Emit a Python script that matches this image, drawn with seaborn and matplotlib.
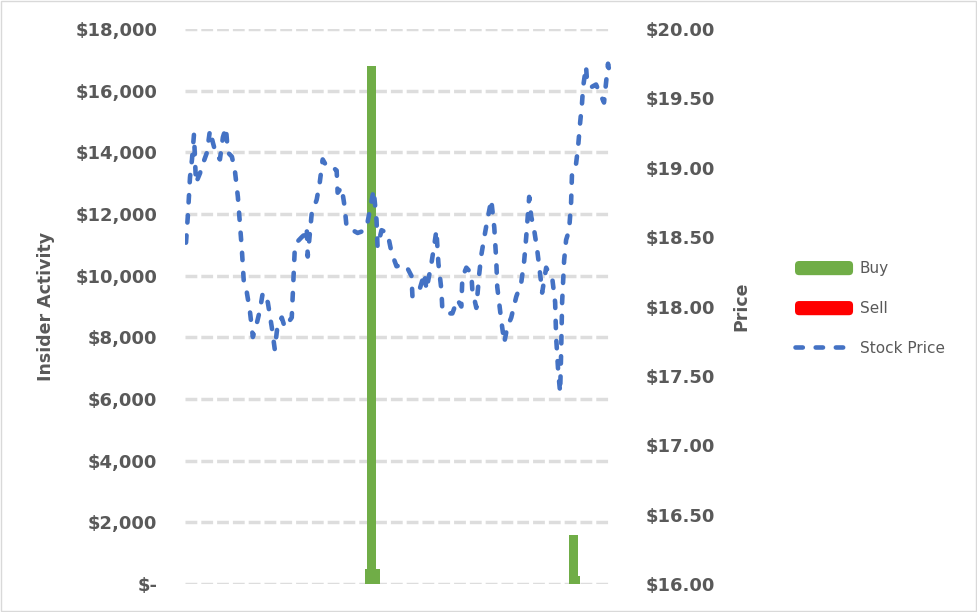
import pandas as pd
import seaborn as sns
import matplotlib.pyplot as plt
from matplotlib.patches import Patch, Rectangle, FancyBboxPatch
from matplotlib.lines import Line2D
from matplotlib.legend_handler import HandlerPatch

# daily close (day offset from first point, price in $)
days = [0, 2, 4, 6, 8, 10, 14, 17, 21, 24, 27, 30, 34, 37, 40, 42, 46, 49, 52, 54,
        56, 58, 61, 64, 67, 71, 74, 77, 82, 86, 89, 92, 96, 99, 106, 109, 112, 116, 119, 121,
        122, 126, 131, 134, 137, 141, 146, 151, 152, 156, 159, 161, 167, 172, 176, 181, 185, 188, 189, 191,
        192, 196, 202, 206, 211, 217, 221, 226, 227, 234, 239, 241, 246, 249, 251, 253, 256, 257, 264, 267,
        272, 276, 277, 281, 286, 287, 291, 294, 296, 299, 302, 306, 307, 309, 311, 312, 316, 319, 322, 326,
        331, 336, 339, 341, 344, 346, 349, 352, 356, 357, 361, 364, 367, 370, 371, 373, 375, 376, 377, 379,
        381, 384, 386, 387, 391, 393, 395, 397, 398, 401, 402, 406, 411, 414, 419, 421, 423, 426]
price = [18.46, 18.67, 18.93, 19.06, 19.24, 18.89, 18.96, 19.03, 19.11, 19.27, 19.18, 19.10, 19.06, 19.22, 19.29, 19.11, 19.08, 18.98, 18.79, 18.60,
         18.41, 18.17, 18.10, 17.97, 17.78, 17.88, 17.97, 18.10, 18.03, 17.85, 17.69, 17.88, 17.92, 17.85, 17.92, 18.41, 18.47, 18.50, 18.52, 18.57,
         18.36, 18.67, 18.77, 18.89, 19.06, 19.01, 19.01, 18.98, 18.82, 18.86, 18.72, 18.57, 18.55, 18.53, 18.54, 18.57, 18.72, 18.84, 18.77, 18.62,
         18.43, 18.55, 18.53, 18.39, 18.29, 18.30, 18.29, 18.22, 18.07, 18.12, 18.24, 18.12, 18.31, 18.45, 18.55, 18.31, 18.12, 17.97, 17.95, 17.95,
         18.05, 18.00, 18.21, 18.28, 18.24, 18.12, 17.99, 18.24, 18.37, 18.50, 18.62, 18.77, 18.70, 18.57, 18.33, 18.14, 17.90, 17.74, 17.85, 17.92,
         18.07, 18.17, 18.33, 18.50, 18.79, 18.65, 18.55, 18.41, 18.17, 18.10, 18.28, 18.24, 18.21, 18.03, 17.78, 17.54, 17.38, 17.66, 18.03, 18.33,
         18.48, 18.55, 18.75, 18.98, 19.03, 19.15, 19.32, 19.47, 19.58, 19.73, 19.62, 19.58, 19.60, 19.55, 19.47, 19.61, 19.75, 19.63]

# insider transactions ($)
buy_days = [184, 186, 190, 388, 390]
buy_values = [480, 16800, 480, 1600, 250]
sell_days = []
sell_values = []

left_ticks = [0, 2000, 4000, 6000, 8000, 10000, 12000, 14000, 16000, 18000]
left_labels = ["$-", "$2,000", "$4,000", "$6,000", "$8,000", "$10,000", "$12,000", "$14,000", "$16,000", "$18,000"]
right_ticks = [16.0, 16.5, 17.0, 17.5, 18.0, 18.5, 19.0, 19.5, 20.0]
right_labels = ["$16.00", "$16.50", "$17.00", "$17.50", "$18.00", "$18.50", "$19.00", "$19.50", "$20.00"]

GREEN = "#70AD47"
RED = "#FF0000"
BLUE = "#4472C4"
GREY = "#595959"
DASH = (0, (1.6, 2.8))

sns.set_style("white")
plt.rcParams["font.family"] = ["DejaVu Sans"]

df = pd.DataFrame({"day": days, "price": price})

fig = plt.figure(figsize=(9.77, 6.12), dpi=100)
ax = fig.add_axes([185 / 977, 1 - 584 / 612, 427 / 977, 555 / 612])
ax2 = ax.twinx()

# gridlines follow the left axis
ax.set_axisbelow(True)
ax.yaxis.grid(True, color="#DDDDDD", linewidth=2.5, linestyle=(0, (3.4, 1.15)))
ax.xaxis.grid(False)

ax.bar(buy_days, buy_values, width=9, color=GREEN, linewidth=0, zorder=2)
ax.bar(sell_days, sell_values, width=9, color=RED, linewidth=0, zorder=2)

sns.lineplot(data=df, x="day", y="price", ax=ax2, color=BLUE, linewidth=3.3,
             linestyle=DASH, dash_capstyle="round",
             estimator=None, sort=False, legend=False)

ax.set_xlim(-1, 427)
ax.set_ylim(0, 18000)
ax2.set_ylim(16, 20)
ax.set_xticks([])
ax2.set_xlabel("")

ax.set_yticks(left_ticks)
ax.set_yticklabels(left_labels)
ax2.set_yticks(right_ticks)
ax2.set_yticklabels(right_labels)
ax.tick_params(axis="y", length=0, pad=20, labelsize=13, labelcolor=GREY)
ax2.tick_params(axis="y", length=0, pad=24, labelsize=13, labelcolor=GREY)
for lab in ax.get_yticklabels() + ax2.get_yticklabels():
    lab.set_fontweight("bold")

ax.set_ylabel("Insider Activity", fontsize=12.5, fontweight="bold", color=GREY)
ax2.set_ylabel("Price", fontsize=12.5, fontweight="bold", color=GREY)
ax.yaxis.set_label_coords(-0.305, 0.5)
ax2.yaxis.set_label_coords(1.283, 0.5)

for a in (ax, ax2):
    for s in a.spines.values():
        s.set_visible(False)


def rounded_patch(legend, orig_handle, xdescent, ydescent, width, height, fontsize):
    return FancyBboxPatch((-xdescent, -ydescent), width, height,
                          boxstyle="round,pad=0,rounding_size=3")


handles = [
    Patch(facecolor=GREEN, edgecolor="none"),
    Patch(facecolor=RED, edgecolor="none"),
    Line2D([], [], color=BLUE, linewidth=3.3, linestyle=DASH, dash_capstyle="round"),
]
fig.legend(handles, ["Buy", "Sell", "Stock Price"], loc="upper left",
           bbox_to_anchor=(795 / 977, 1 - 261 / 612), frameon=False,
           fontsize=11, labelcolor=GREY, handlelength=3.8, handleheight=1.05,
           handletextpad=0.45, labelspacing=1.62, borderpad=0, borderaxespad=0,
           handler_map={Patch: HandlerPatch(patch_func=rounded_patch)})

# chart area border
fig.patches.append(Rectangle((0.001, 0.002), 0.998, 0.996, transform=fig.transFigure,
                             fill=False, edgecolor="#D9D9D9", linewidth=1))

fig.savefig("out.png", dpi=100)
